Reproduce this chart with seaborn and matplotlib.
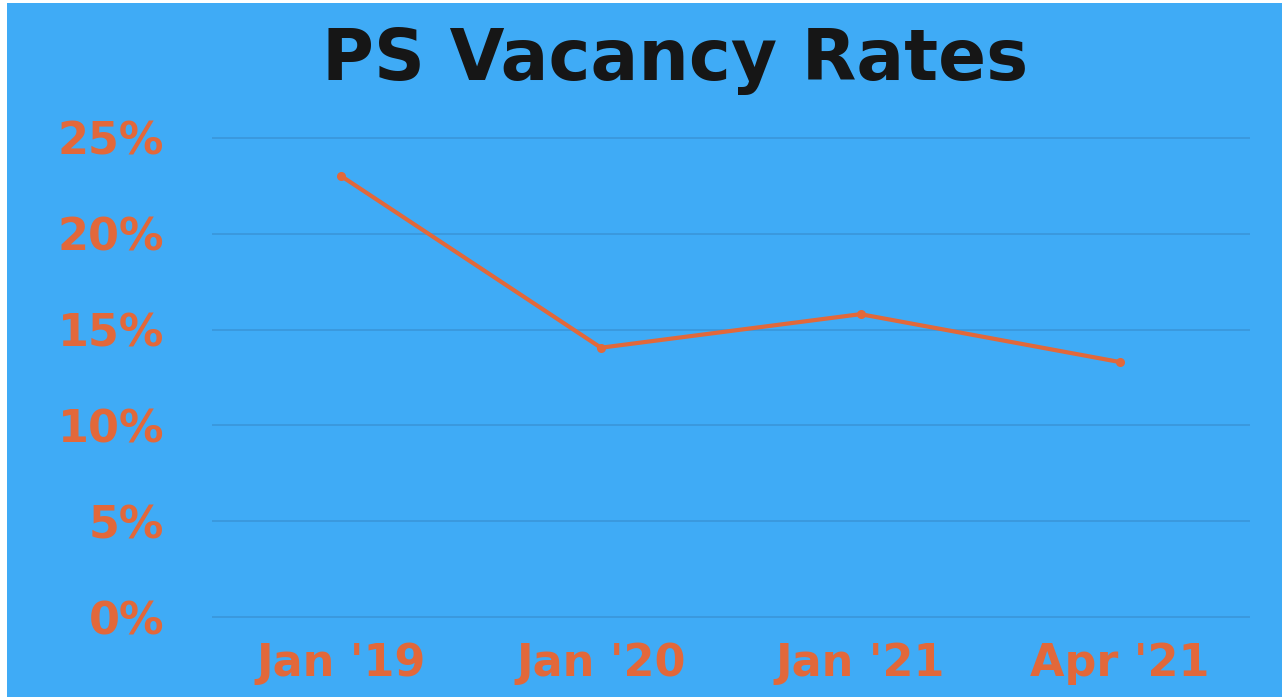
import matplotlib
matplotlib.use("Agg")
import matplotlib.pyplot as plt
from matplotlib.patches import Rectangle
import seaborn as sns
import pandas as pd

# data
periods = ["Jan '19", "Jan '20", "Jan '21", "Apr '21"]
vacancy = [23.0, 14.05, 15.8, 13.3]
y_ticks = [0, 5, 10, 15, 20, 25]
y_labels = ["0%", "5%", "10%", "15%", "20%", "25%"]

bg = "#3FABF6"
orange = "#E2683A"
grid_col = "#3A98DC"

sns.set_theme(style="white")
plt.rcParams['font.family'] = ['DejaVu Sans']

fig = plt.figure(figsize=(12.82, 6.97), dpi=100, facecolor="white")
# blue card with thin white border on top/left
fig.patches.append(Rectangle((7 / 1282, 0), 1, 1 - 3 / 697, transform=fig.transFigure,
                             facecolor=bg, edgecolor="none", zorder=-10))

ax = fig.add_axes([0.165, 0.101, 0.81, 0.715])
ax.set_facecolor(bg)

df = pd.DataFrame({"period": periods, "vacancy": vacancy})
sns.lineplot(data=df, x="period", y="vacancy", ax=ax, sort=False, color=orange,
             linewidth=3.0, marker="o", markersize=6.5, markeredgewidth=0)

ax.set_xlim(-0.5, 3.5)
ax.set_ylim(-0.5, 25.5)
ax.set_yticks(y_ticks)
ax.set_yticklabels(y_labels, fontweight="bold")
for lbl in ax.get_xticklabels():
    lbl.set_fontweight("bold")
ax.yaxis.grid(True, color=grid_col, linewidth=1.3)
ax.set_axisbelow(True)
for s in ax.spines.values():
    s.set_visible(False)
ax.tick_params(axis="y", length=0, pad=34, labelsize=32, labelcolor=orange)
ax.tick_params(axis="x", length=0, pad=11, labelsize=32, labelcolor=orange)
ax.set_xlabel("")
ax.set_ylabel("")

fig.text(0.527, 0.913, "PS Vacancy Rates", ha="center", va="center",
         fontsize=51, fontweight="bold", color="#161616")

fig.savefig("out.png", dpi=100, facecolor=fig.get_facecolor())
